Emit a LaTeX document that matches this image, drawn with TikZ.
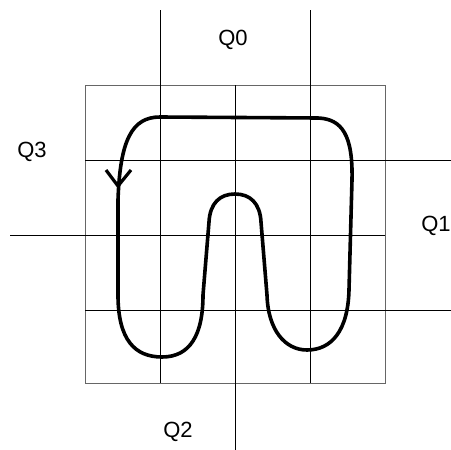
\documentclass[tikz,border=0pt]{standalone}
\usepackage{fontspec}
\setmainfont{Liberation Sans}
\begin{document}
\begin{tikzpicture}[x=1pt,y=-1pt,
  gridline/.style={black,line width=0.8pt},
  boxline/.style={black!60,line width=0.9pt},
  curve/.style={black,line width=3.6pt,line join=round,line cap=round},
  lbl/.style={font=\fontsize{22}{26}\selectfont,inner sep=0pt}]
\useasboundingbox (0,0) rectangle (451,450);
% outer box
\draw[boxline] (85,85) rectangle (385,383);
% long lines
\draw[gridline] (160,10) -- (160,383);
\draw[gridline] (310,10) -- (310,383);
\draw[gridline] (235,85) -- (235,450);
\draw[gridline] (85,160) -- (451,160);
\draw[gridline] (10,235) -- (385,235);
\draw[gridline] (85,310) -- (451,310);
% labels
\node[lbl] (q0) at (233,40) {Q0};
\node[lbl] (q3) at (32,152) {Q3};
\node[lbl] (q1) at (436,226) {Q1};
\node[lbl] (q2) at (178,432) {Q2};
% curve
\draw[curve] (118,200) -- (118,295)
  .. controls (118,340) and (135,357) .. (162,357)
  .. controls (190,357) and (203,335) .. (203,295)
  -- (209,222)
  .. controls (210,203) and (220,194) .. (235,194)
  .. controls (250,194) and (260,203) .. (261,222)
  -- (267,295)
  .. controls (268,330) and (285,350) .. (307,350)
  .. controls (332,350) and (348,330) .. (349,290)
  -- (352,180)
  .. controls (353,135) and (342,119) .. (318,118)
  -- (160,117)
  .. controls (132,117) and (120,140) .. (118,200) -- cycle;
% arrowhead
\draw[curve,line width=3.2pt,line cap=butt,line join=miter] (106,170) -- (118,186) -- (131,170);
\end{tikzpicture}
\end{document}
